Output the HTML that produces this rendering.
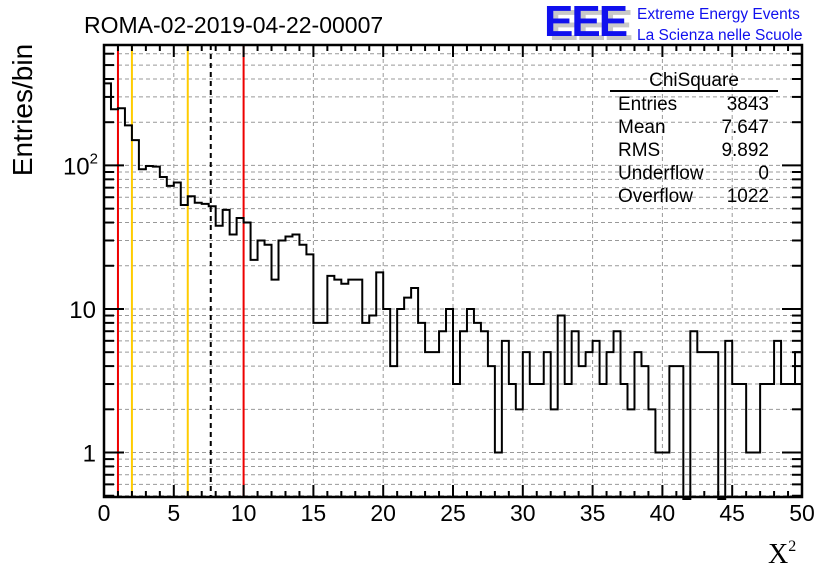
<!DOCTYPE html>
<html><head><meta charset="utf-8"><style>
html,body{margin:0;padding:0;background:#fff;}
svg{display:block;font-family:"Liberation Sans",sans-serif;}
</style></head><body>
<svg id="c" width="836" height="572" viewBox="0 0 836 572">
<rect x="0" y="0" width="836" height="572" fill="#fff"/>
<g id="grid"></g>
<g id="lines"></g>
<g id="hist"></g>
<g id="axes"></g>
<text x="84" y="33" font-size="23" fill="#000">ROMA-02-2019-04-22-00007</text>
<g>
<text x="549" y="40" font-size="44" font-weight="bold" fill="#c8c8c8" letter-spacing="-2">EEE</text>
<text x="544" y="36" font-size="44" font-weight="bold" fill="#1010ee" letter-spacing="-2">EEE</text>
<text x="637" y="19" font-size="15.5" fill="#1010ee">Extreme Energy Events</text>
<text x="637" y="40" font-size="15.5" fill="#1010ee">La Scienza nelle Scuole</text>
</g>
<g font-size="19" fill="#000">
<text x="694" y="86" text-anchor="middle">ChiSquare</text>
<line x1="610" y1="91" x2="778" y2="91" stroke="#000" stroke-width="2"/>
<text x="618" y="110">Entries</text><text x="769" y="110" text-anchor="end">3843</text>
<text x="618" y="133">Mean</text><text x="769" y="133" text-anchor="end">7.647</text>
<text x="618" y="156">RMS</text><text x="769" y="156" text-anchor="end">9.892</text>
<text x="618" y="179">Underflow</text><text x="769" y="179" text-anchor="end">0</text>
<text x="618" y="202">Overflow</text><text x="769" y="202" text-anchor="end">1022</text>
</g>
<text transform="translate(32,110) rotate(-90)" text-anchor="middle" font-size="28">Entries/bin</text>
<text x="768" y="563" font-size="28" font-family="Liberation Serif,serif">X<tspan font-size="16" dy="-12">2</tspan></text>
</svg>
<script>
const counts = [373,246,250,190,150,94,99,98,83,72,76,53,61,55,54,52,38,49,33,43,40,22,30,28,16,30,32,33,28,24,8,8,17,16,15,16,16,8,9,18,10,4,10,12,14,8,5,5,7,10,3,7,10,8,7,4,1,6,3,2,5,3,3,5,2,9,3,7,4,5,6,3,5,7,3,2,5,4,2,1,1,4,4,0,7,5,5,5,0,6,3,3,1,1,3,3,6,3,3,5];
const binWidth = 0.5;
const xTicks = [0,5,10,15,20,25,30,35,40,45,50];
const yTickVals = [1,10,100];
const yTickLabels = ["1","10","10²"];
const markerLines = [{x:1,c:"#ee0000",d:""},{x:2,c:"#ffcc00",d:""},{x:6,c:"#ffcc00",d:""},{x:7.647,c:"#000",d:"5,4"},{x:10,c:"#ee0000",d:""}];

const X0=104,X1=802,Y0=45,Y1=497;
const yMin=Math.log10(0.49),yMax=Math.log10(690);
function sx(v){return X0+(v-0)/(50-0)*(X1-X0);}
function sy(v){const l=Math.log10(Math.max(v,0.49));return Y1-(l-yMin)/(yMax-yMin)*(Y1-Y0);}
const NS="http://www.w3.org/2000/svg";
function mk(p,t,a){const e=document.createElementNS(NS,t);for(const k in a)e.setAttribute(k,a[k]);p.appendChild(e);return e;}
const grid=document.getElementById('grid'),axes=document.getElementById('axes'),hist=document.getElementById('hist'),lines=document.getElementById('lines');

xTicks.forEach(v=>{if(v>0&&v<50){const l=mk(grid,'line',{x1:sx(v),x2:sx(v),y1:Y0,y2:Y1,stroke:'#999','stroke-dasharray':'4,3'});

}});
for(let d=0.1;d<=100;d*=10){for(let m=1;m<10;m++){const v=Math.round(d*m*100)/100;if(v<0.49||v>690)continue;const y=sy(v);
const l=mk(grid,'line',{x1:X0,x2:X1,y1:y,y2:y,stroke:'#999','stroke-dasharray':'4,3'});


const major=(m===1);
const t1=mk(axes,'line',{x1:X0,x2:X0+(major?20:10),y1:y,y2:y,stroke:'#000','stroke-width':2});


const t2=mk(axes,'line',{x1:X1,x2:X1-(major?20:10),y1:y,y2:y,stroke:'#000','stroke-width':2});


}}

markerLines.forEach(m=>{const l=mk(lines,'line',{x1:sx(m.x),x2:sx(m.x),y1:Y0,y2:Y1,stroke:m.c,'stroke-width':2,'stroke-dasharray':m.d||'none'});

});

let d='M'+sx(0)+','+Y1;
counts.forEach((c,i)=>{const y=c>0?sy(c):Y1+2;d+=' L'+sx(i*binWidth)+','+y+' L'+sx((i+1)*binWidth)+','+y;});
const hp=mk(hist,'path',{d:d,fill:'none',stroke:'#000','stroke-width':2});



const fr=mk(axes,'rect',{x:X0,y:Y0,width:X1-X0,height:Y1-Y0,fill:'none',stroke:'#000','stroke-width':2.5});


for(let v=0;v<=50;v++){const major=(v%5===0);const len=major?12:6;
const a=mk(axes,'line',{x1:sx(v),x2:sx(v),y1:Y1,y2:Y1-len,stroke:'#000','stroke-width':2});


const b=mk(axes,'line',{x1:sx(v),x2:sx(v),y1:Y0,y2:Y0+len,stroke:'#000','stroke-width':2});

}
xTicks.forEach(v=>{const t=mk(axes,'text',{x:sx(v),y:521,'text-anchor':'middle','font-size':23});t.textContent=String(v);

});
yTickVals.forEach((v,i)=>{const t=mk(axes,'text',{x:96,y:sy(v)+9,'text-anchor':'end','font-size':24});
if(v===100){t.textContent='10';const s=mk(t,'tspan',{'font-size':15,dy:-11});s.textContent='2';t.setAttribute('x',98);}
else t.textContent=yTickLabels[i];

});
</script>
</body></html>
